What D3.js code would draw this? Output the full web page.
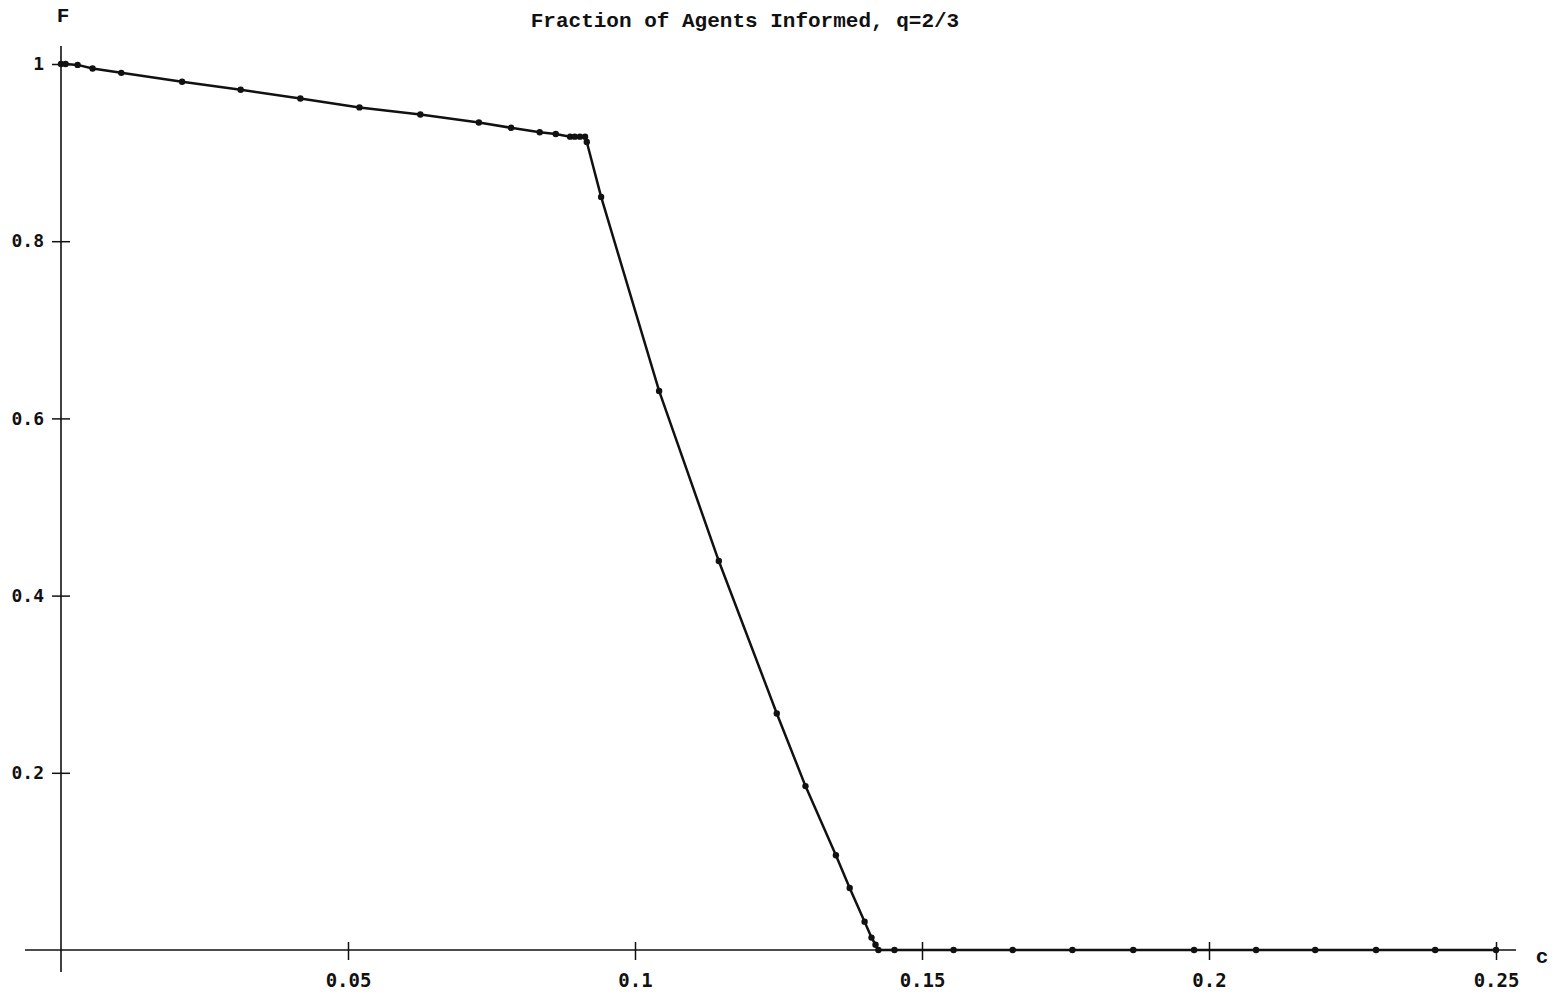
<!DOCTYPE html>
<html>
<head>
<meta charset="utf-8">
<script src="https://cdn.jsdelivr.net/npm/d3@7"></script>
<style>
  html,body{margin:0;padding:0;background:#fff;}
  svg{display:block;}
</style>
</head>
<body>
<div id="chart"></div>
<script>
// fraction of agents informed vs cost c

const TITLE = "Fraction of Agents Informed, q=2/3";
const X_TICKS = [0.05, 0.1, 0.15, 0.2, 0.25];
const Y_TICKS = [0.2, 0.4, 0.6, 0.8, 1];

const C_VALUES = [
  0, 0.0008, 0.0029, 0.0055, 0.0105, 0.0211, 0.0313, 0.0417, 0.052, 0.0626,
  0.0728, 0.0784, 0.0834, 0.0862, 0.0887, 0.0895, 0.0904, 0.0913, 0.0916,
  0.0941, 0.1042, 0.1146, 0.1247, 0.1297, 0.135, 0.1374, 0.14, 0.1412,
  0.1419, 0.1424, 0.1452, 0.1555, 0.1658, 0.1762, 0.1868, 0.1974, 0.2082,
  0.2185, 0.2291, 0.2394, 0.25
];
const F_VALUES = [
  1.0, 1.0, 0.999, 0.995, 0.99, 0.98, 0.971, 0.961, 0.951, 0.943,
  0.934, 0.928, 0.923, 0.921, 0.918, 0.918, 0.918, 0.918, 0.912,
  0.85, 0.631, 0.439, 0.267, 0.185, 0.107, 0.07, 0.032, 0.014,
  0.006, 0, 0, 0, 0, 0, 0, 0, 0,
  0, 0, 0, 0
];

const W = 1564, H = 1005;
const svg = d3.select("#chart").append("svg")
  .attr("width", W).attr("height", H).attr("viewBox", `0 0 ${W} ${H}`);

const x = d3.scaleLinear().domain([0, 0.25]).range([61, 1496]);
const y = d3.scaleLinear().domain([0, 1]).range([950, 64]);

const MONO = "'DejaVu Sans Mono', monospace";
const TYPE = "'Liberation Mono', monospace";
const INK = "#111";

// title + axis names
svg.append("text").attr("x", 745).attr("y", 27)
  .attr("text-anchor", "middle").attr("fill", INK)
  .style("font-family", TYPE).style("font-size", "21px")
  .style("font-weight", "bold")
  .text(TITLE);

svg.append("text").attr("x", 63).attr("y", 22)
  .attr("text-anchor", "middle").attr("fill", INK)
  .style("font-family", TYPE).style("font-size", "21px")
  .style("font-weight", "bold").text("F");

svg.append("text").attr("x", 1542).attr("y", 963)
  .attr("text-anchor", "middle").attr("fill", INK)
  .style("font-family", TYPE).style("font-size", "21px")
  .style("font-weight", "bold").text("c");

// axes, plain crossing ticks like the original
const xAxis = svg.append("g").attr("transform", `translate(0,${y(0)})`)
  .call(d3.axisBottom(x).tickValues(X_TICKS).tickSize(10).tickPadding(14)
    .tickFormat(d => String(d)));
xAxis.select(".domain").remove();
xAxis.selectAll(".tick line").attr("y1", -8).attr("y2", 10)
  .attr("stroke", INK).attr("stroke-width", 1.5);
xAxis.selectAll("text").attr("fill", INK)
  .style("font-family", MONO).style("font-size", "19px").style("font-weight", "bold");
svg.append("line").attr("x1", 25).attr("x2", 1516)
  .attr("y1", y(0)).attr("y2", y(0)).attr("stroke", INK).attr("stroke-width", 1.6);

const yAxis = svg.append("g").attr("transform", `translate(${x(0)},0)`)
  .call(d3.axisLeft(y).tickValues(Y_TICKS).tickSize(9).tickPadding(8)
    .tickFormat(d => String(d)));
yAxis.select(".domain").remove();
yAxis.selectAll(".tick line").attr("x1", 9).attr("x2", -9)
  .attr("stroke", INK).attr("stroke-width", 1.5);
yAxis.selectAll("text").attr("fill", INK)
  .style("font-family", MONO).style("font-size", "18px").style("font-weight", "bold");
svg.append("line").attr("x1", x(0)).attr("x2", x(0))
  .attr("y1", 46).attr("y2", 972).attr("stroke", INK).attr("stroke-width", 1.6);

// data
const pts = C_VALUES.map((c, i) => ({c, f: F_VALUES[i]}));
svg.append("path").datum(pts)
  .attr("fill", "none").attr("stroke", INK).attr("stroke-width", 2.5)
  .attr("stroke-linejoin", "round")
  .attr("d", d3.line().x(d => x(d.c)).y(d => y(d.f)));

svg.append("g").selectAll("circle").data(pts).join("circle")
  .attr("cx", d => x(d.c)).attr("cy", d => y(d.f)).attr("r", 3.2)
  .attr("fill", INK);
</script>
</body>
</html>
